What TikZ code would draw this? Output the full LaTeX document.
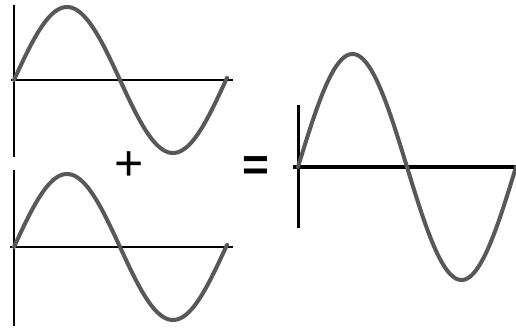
\documentclass[tikz,border=0pt]{standalone}
\usepackage{fontspec}
\newfontfamily\eqfont{Liberation Sans}
\begin{document}
\begin{tikzpicture}[x=1pt,y=-1pt,
  wave/.style={draw={rgb,255:red,88;green,88;blue,88},line width=4pt,line cap=round,line join=round},
  smallaxis/.style={draw=black,line width=2pt},
  bigaxis/.style={draw=black,line width=4pt},
  sym/.style={inner sep=0pt,outer sep=0pt,text=black}]
\useasboundingbox[fill=white] (0,0) rectangle (516,329);
% top small wave
\draw[smallaxis,line width=2.6pt] (14,5) -- (14,157);
\draw[smallaxis] (11,80) -- (233,80);
\draw[wave] plot[domain=14:227,samples=120,smooth] (\x,{80-73*sin((\x-14)/212*360)});
% bottom small wave
\draw[smallaxis,line width=2.6pt] (14,170) -- (14,326);
\draw[smallaxis] (10,247) -- (233,247);
\draw[wave] plot[domain=14:227,samples=120,smooth] (\x,{247-73*sin((\x-14)/212*360)});
% big wave
\draw[bigaxis,line width=3pt] (298,105) -- (298,228);
\draw[bigaxis] (293,167) -- (516,167);
\draw[wave] plot[domain=298:516,samples=140,smooth] (\x,{167-113*sin((\x-298)/218*360)});
% symbols
\node[sym,font=\eqfont\fontsize{50}{50}\selectfont] (plus) at (129.5,166.5) {+};
\node[sym,font=\eqfont\bfseries\fontsize{46}{46}\selectfont] (eq) at (255.5,168.5) {=};
\end{tikzpicture}
\end{document}
